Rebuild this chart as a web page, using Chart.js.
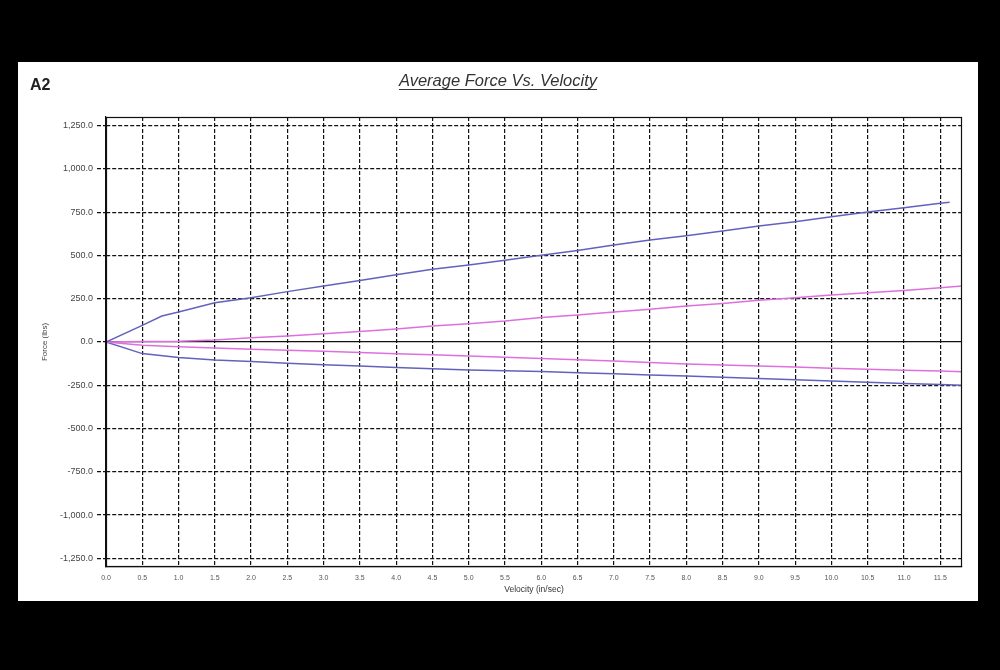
<!DOCTYPE html>
<html>
<head>
<meta charset="utf-8">
<script src="https://cdn.jsdelivr.net/npm/chart.js@4"></script>
<style>
  html, body { margin: 0; padding: 0; background: #000; width: 1000px; height: 670px; overflow: hidden; }
  #panel { position: absolute; left: 18px; top: 62px; width: 960px; height: 539px; background: #fff; }
</style>
</head>
<body>
<div id="panel"><canvas id="myChart" width="960" height="539"></canvas></div>
<script>
// velocity (in/sec) sample points
var velocity = [0, 0.5, 1.0, 1.5, 2.0, 2.5, 3.0, 3.5, 4.0, 4.5, 5.0, 5.5, 6.0,
                6.5, 7.0, 7.5, 8.0, 8.5, 9.0, 9.5, 10.0, 10.5, 11.0, 11.5, 11.8];
var velocityExtBlue = [0, 0.5, 0.77, 1.0, 1.5, 2.0, 2.5, 3.0, 3.5, 4.0, 4.5, 5.0, 5.5, 6.0,
                       6.5, 7.0, 7.5, 8.0, 8.5, 9.0, 9.5, 10.0, 10.5, 11.0, 11.5, 11.63];

// force (lbs)
var forceExtBlue = [0, 96, 150, 173, 227, 256, 291, 323, 356, 388, 420, 445, 473, 501,
                    529, 560, 589, 614, 641, 670, 695, 724, 751, 776, 801, 808];
var forceExtPink = [0, 3, 5, 12, 25, 35, 48, 60, 75, 92, 106, 121, 141,
                    156, 173, 189, 208, 223, 241, 256, 271, 285, 298, 314, 323];
var forceCompPink = [0, -19, -27, -35, -42, -48, -54, -61, -68, -74, -81, -88, -96,
                     -103, -110, -119, -127, -133, -138, -145, -152, -157, -163, -168, -172];
var forceCompBlue = [0, -67, -90, -104, -113, -123, -131, -139, -148, -155, -162, -166, -171,
                     -177, -183, -190, -197, -204, -211, -218, -225, -232, -240, -245, -250];

var xTicks = [0, 0.5, 1.0, 1.5, 2.0, 2.5, 3.0, 3.5, 4.0, 4.5, 5.0, 5.5,
              6.0, 6.5, 7.0, 7.5, 8.0, 8.5, 9.0, 9.5, 10.0, 10.5, 11.0, 11.5];
var yTicks = [-1250, -1000, -750, -500, -250, 0, 250, 500, 750, 1000, 1250];

var blue = 'rgb(98, 98, 188)';
var pink = 'rgb(222, 112, 222)';

function points(xs, ys) {
    return xs.map(function(x, i) { return {x: x, y: ys[i]}; });
}

// title, panel label and the box round the plot
var frame = {
    id: 'frame',
    afterDraw: function(chart) {
        var c = chart.ctx, a = chart.chartArea;
        c.save();
        c.strokeStyle = '#111';
        c.lineWidth = 1.2;
        c.setLineDash([]);
        c.strokeRect(a.left + 0.5, a.top + 0.5, a.right - a.left - 1, a.bottom - a.top - 1);

        c.fillStyle = '#222';
        c.font = 'bold 16px "Liberation Sans", Arial, sans-serif';
        c.textAlign = 'left';
        c.textBaseline = 'alphabetic';
        c.fillText('A2', 12, 28);

        var t = 'Average Force Vs. Velocity';
        c.font = 'italic 16.5px "Liberation Sans", Arial, sans-serif';
        c.textAlign = 'center';
        c.fillStyle = '#333';
        c.fillText(t, 480, 24);
        var w = c.measureText(t).width;
        c.strokeStyle = '#333';
        c.lineWidth = 1;
        c.beginPath();
        c.moveTo(480 - w / 2, 27.5);
        c.lineTo(480 + w / 2, 27.5);
        c.stroke();
        c.restore();
    }
};

var ctx = document.getElementById('myChart').getContext('2d');
var myChart = new Chart(ctx, {
    type: 'line',
    data: {
        datasets: [
            { label: 'Extension A', data: points(velocityExtBlue, forceExtBlue), borderColor: blue },
            { label: 'Extension B', data: points(velocity, forceExtPink), borderColor: pink },
            { label: 'Compression B', data: points(velocity, forceCompPink), borderColor: pink },
            { label: 'Compression A', data: points(velocity, forceCompBlue), borderColor: blue }
        ]
    },
    options: {
        responsive: false,
        animation: false,
        layout: { padding: { top: 55, right: 16, bottom: 0, left: 0 } },
        elements: {
            line: { borderWidth: 1.5, tension: 0, fill: false },
            point: { radius: 0, hoverRadius: 0 }
        },
        plugins: {
            legend: { display: false },
            tooltip: { enabled: false },
            title: { display: false }
        },
        scales: {
            x: {
                type: 'linear',
                min: 0,
                max: 11.8,
                afterBuildTicks: function(s) { s.ticks = xTicks.map(function(v) { return {value: v}; }); },
                afterFit: function(s) { s.height = 34; },
                grid: { color: '#111', lineWidth: 1.2, drawTicks: false },
                border: { color: '#111', width: 1.2, dash: [4, 2] },
                ticks: {
                    padding: 7,
                    maxRotation: 0,
                    autoSkip: false,
                    color: '#555',
                    font: { family: '"Liberation Sans", Arial, sans-serif', size: 7 },
                    callback: function(v) { return Number(v).toFixed(1); }
                },
                title: {
                    display: true,
                    text: 'Velocity (in/sec)',
                    color: '#333',
                    font: { family: '"Liberation Sans", Arial, sans-serif', size: 8.5 },
                    padding: { top: 0, bottom: 6 }
                }
            },
            y: {
                type: 'linear',
                min: -1300,
                max: 1300,
                afterBuildTicks: function(s) { s.ticks = yTicks.map(function(v) { return {value: v}; }); },
                afterFit: function(s) { s.width = 88; },
                grid: {
                    color: '#111',
                    lineWidth: 1.2,
                    tickLength: 9,
                    tickColor: '#111',
                    tickBorderDash: [4, 2]
                },
                border: {
                    color: '#111',
                    width: 1.2,
                    dash: function(c) { return (c.tick && c.tick.value === 0) ? [] : [4, 2]; }
                },
                ticks: {
                    padding: 4,
                    autoSkip: false,
                    color: '#444',
                    font: { family: '"Liberation Sans", Arial, sans-serif', size: 9 },
                    callback: function(v) {
                        return Number(v).toLocaleString('en-US', { minimumFractionDigits: 1, maximumFractionDigits: 1 });
                    }
                },
                title: {
                    display: true,
                    text: 'Force (lbs)',
                    color: '#444',
                    font: { family: '"Liberation Sans", Arial, sans-serif', size: 8 },
                    padding: { top: 22, bottom: 0 }
                }
            }
        }
    },
    plugins: [frame]
});
</script>
</body>
</html>
